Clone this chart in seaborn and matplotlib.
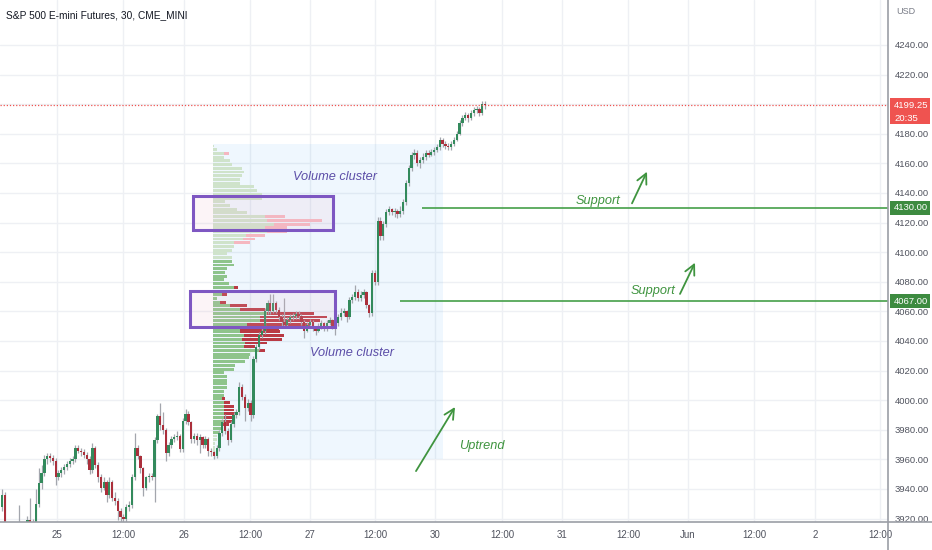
import numpy as np
import pandas as pd
import matplotlib
matplotlib.use("Agg")
import matplotlib.pyplot as plt
import matplotlib.transforms as mtransforms
from matplotlib.patches import Rectangle
from matplotlib.lines import Line2D
from matplotlib import font_manager
import seaborn as sns

# 30 min candles, ES
opens = [3928, 3936, 3913, 3910, 3912, 3911, 3915, 3914, 3912, 3916, 3919, 3915, 3918, 3930, 3944, 3951,
         3960, 3962, 3961, 3959, 3948, 3951, 3953, 3955, 3957, 3959, 3960, 3968, 3966, 3965, 3963, 3960,
         3953, 3968, 3956, 3948, 3941, 3945, 3936, 3945, 3934, 3932, 3925, 3921, 3920, 3928, 3929, 3948,
         3968, 3962, 3954, 3941, 3948, 3949, 3948, 3973, 3989, 3983, 3980, 3964, 3970, 3974, 3975, 3976,
         3967, 3986, 3991, 3985, 3974, 3976, 3973, 3975, 3970, 3974, 3966, 3965, 3962, 3968, 3978, 3985,
         3979, 3973, 3984, 3990, 3992, 4009, 4002, 3995, 3998, 3990, 4028, 4036, 4044, 4047, 4060, 4066,
         4060, 4066, 4061, 4056, 4053, 4051, 4054, 4056, 4057, 4058, 4057, 4053, 4047, 4051, 4053, 4049,
         4047, 4050, 4052, 4049, 4052, 4054, 4050, 4052, 4056, 4059, 4060, 4056, 4068, 4070, 4073, 4069,
         4071, 4073, 4064, 4059, 4086, 4080, 4121, 4111, 4119, 4127, 4129, 4127, 4128, 4126, 4128, 4134,
         4147, 4157, 4166, 4167, 4160, 4162, 4164, 4167, 4166, 4168, 4169, 4171, 4176, 4173, 4172, 4171,
         4173, 4176, 4180, 4187, 4191, 4193, 4191, 4194, 4196, 4197, 4194, 4200]
closes = [3936, 3913, 3910, 3912, 3911, 3915, 3914, 3912, 3916, 3919, 3915, 3918, 3930, 3944, 3951, 3960,
          3962, 3961, 3959, 3948, 3951, 3953, 3955, 3957, 3959, 3960, 3968, 3966, 3965, 3963, 3960, 3953,
          3968, 3956, 3948, 3941, 3945, 3936, 3945, 3934, 3932, 3925, 3921, 3920, 3928, 3929, 3948, 3968,
          3962, 3954, 3941, 3948, 3949, 3948, 3973, 3989, 3983, 3980, 3964, 3970, 3974, 3975, 3976, 3967,
          3986, 3991, 3985, 3974, 3976, 3973, 3975, 3970, 3974, 3966, 3965, 3962, 3968, 3978, 3985, 3979,
          3973, 3984, 3990, 3992, 4009, 4002, 3995, 3998, 3990, 4028, 4036, 4044, 4047, 4060, 4066, 4060,
          4066, 4061, 4056, 4053, 4051, 4054, 4056, 4057, 4058, 4057, 4053, 4047, 4051, 4053, 4049, 4047,
          4050, 4052, 4049, 4052, 4054, 4050, 4052, 4056, 4059, 4060, 4056, 4068, 4070, 4073, 4069, 4071,
          4073, 4064, 4059, 4086, 4080, 4121, 4111, 4119, 4127, 4129, 4127, 4128, 4126, 4128, 4134, 4147,
          4157, 4166, 4167, 4160, 4162, 4164, 4167, 4166, 4168, 4169, 4171, 4176, 4173, 4172, 4171, 4173,
          4176, 4180, 4187, 4191, 4193, 4191, 4194, 4196, 4197, 4194, 4200, 4199.25]
highs = [3940, 3938, 3915, 3915, 3916, 3917, 3929, 3916, 3918, 3922, 3934, 3920, 3940, 3954, 3956, 3963,
         3964, 3964, 3963, 3961, 3953, 3955, 3957, 3959, 3961, 3962, 3970, 3970, 3968, 3967, 3965, 3962,
         3971, 3969, 3958, 3950, 3948, 3946, 3948, 3946, 3938, 3934, 3927, 3923, 3930, 3932, 3950, 3978,
         3970, 3963, 3955, 3949, 3951, 3951, 3975, 3991, 3998, 3992, 3981, 3972, 3976, 3977, 3979, 3977,
         3988, 3994, 3993, 3986, 3978, 3978, 3977, 3976, 3976, 3975, 3968, 3966, 3970, 3980, 3987, 3991,
         3981, 3986, 3992, 3994, 4012, 4011, 4004, 4001, 4000, 4030, 4038, 4046, 4050, 4062, 4068, 4072,
         4072, 4067, 4063, 4058, 4069, 4056, 4058, 4059, 4060, 4060, 4058, 4054, 4053, 4055, 4054, 4050,
         4052, 4054, 4053, 4054, 4056, 4055, 4054, 4058, 4062, 4062, 4061, 4070, 4072, 4078, 4075, 4074,
         4075, 4074, 4065, 4088, 4088, 4124, 4124, 4121, 4129, 4131, 4130, 4130, 4129, 4131, 4136, 4149,
         4159, 4168, 4170, 4169, 4164, 4167, 4169, 4169, 4170, 4171, 4173, 4178, 4177, 4175, 4174, 4175,
         4178, 4182, 4189, 4193, 4195, 4194, 4196, 4198, 4199, 4198, 4202, 4202]
lows = [3925, 3910, 3905, 3906, 3907, 3908, 3910, 3908, 3909, 3913, 3912, 3912, 3914, 3928, 3940, 3949,
        3957, 3958, 3956, 3943, 3946, 3948, 3950, 3953, 3955, 3957, 3958, 3964, 3962, 3961, 3957, 3950,
        3951, 3954, 3945, 3938, 3939, 3931, 3934, 3932, 3929, 3919, 3917, 3916, 3918, 3925, 3927, 3946,
        3960, 3951, 3935, 3939, 3945, 3946, 3931, 3971, 3980, 3977, 3959, 3962, 3968, 3972, 3973, 3965,
        3965, 3984, 3983, 3971, 3971, 3970, 3964, 3968, 3968, 3962, 3962, 3960, 3961, 3966, 3976, 3977,
        3970, 3972, 3982, 3988, 3990, 4000, 3986, 3993, 3986, 3988, 4026, 4034, 4042, 4045, 4058, 4058,
        4059, 4059, 4054, 4050, 4049, 4049, 4052, 4054, 4055, 4055, 4051, 4042, 4046, 4049, 4047, 4044,
        4046, 4048, 4047, 4047, 4051, 4048, 4044, 4050, 4054, 4057, 4053, 4055, 4066, 4068, 4067, 4067,
        4069, 4062, 4056, 4057, 4078, 4078, 4108, 4108, 4117, 4125, 4125, 4124, 4123, 4124, 4126, 4132,
        4145, 4155, 4163, 4158, 4157, 4160, 4162, 4164, 4165, 4166, 4168, 4169, 4171, 4170, 4169, 4169,
        4172, 4175, 4179, 4185, 4189, 4188, 4189, 4192, 4194, 4192, 4193, 4197]

# fixed range volume profile rows, top (4173) to bottom (3962)
up_vol = [1, 4, 11, 11, 17, 19, 29, 31, 29, 27, 27, 41, 44, 49, 49, 12, 17, 24, 34, 52, 54, 61, 52, 54,
          33, 30, 21, 21, 19, 14, 19, 19, 21, 14, 12, 14, 11, 16, 21, 14, 9, 4, 7, 17, 27, 54, 47, 47,
          34, 27, 27, 31, 29, 32, 31, 46, 37, 36, 32, 22, 21, 11, 14, 14, 14, 14, 11, 11, 9, 11, 11, 11,
          11, 11, 11, 9, 9, 6, 4, 4, 2, 2, 2, 1]
down_vol = [0, 0, 5, 0, 0, 0, 0, 0, 0, 0, 0, 0, 0, 0, 0, 0, 0, 0, 0, 20, 55, 36, 22, 20,
            19, 12, 16, 0, 0, 0, 0, 0, 0, 0, 0, 0, 0, 0, 4, 5, 5, 0, 6, 17, 25, 47, 67, 60,
            63, 39, 40, 40, 40, 22, 11, 6, 0, 0, 0, 0, 0, 0, 0, 0, 0, 0, 0, 0, 3, 6, 10, 10,
            11, 11, 10, 7, 0, 0, 0, 0, 0, 0, 0, 0]
profile_high = 4173
profile_low = 3962

price_ticks = list(range(3920, 4241, 20))
time_labels = ["25", "12:00", "26", "12:00", "27", "12:00", "30", "12:00", "31", "12:00", "Jun", "12:00", "2", "12:00"]
time_px = [57, 123, 184, 250, 310, 375, 435, 502, 562, 628, 688, 754, 815, 880]

last_price = 4199.25
supports = [4130, 4067]

sns.set_theme(style="white")
names = {f.name for f in font_manager.fontManager.ttflist}
narrow = "Liberation Sans Narrow" if "Liberation Sans Narrow" in names else "Liberation Sans"
plt.rcParams["font.family"] = [narrow, "DejaVu Sans"]

fig = plt.figure(figsize=(9.32, 5.5), dpi=100)
ax = fig.add_axes([0, 28 / 550, 888 / 932, 522 / 550])

df = pd.DataFrame({"open": opens, "high": highs, "low": lows, "close": closes})
df["bar"] = np.arange(len(df))
up = df["close"] >= df["open"]

bar_px = 483 / (len(df) - 1)


def px(x):
    return (x - 2) / bar_px


ax.set_xlim(px(0), px(888))
ax.set_ylim(3917.7, 4270.4)

ax.set_xticks([px(t) for t in time_px])
ax.set_xticklabels(time_labels)
ax.set_yticks(price_ticks)
ax.set_yticklabels([f"{p:.2f}" for p in price_ticks])
ax.yaxis.tick_right()
ax.tick_params(axis="y", length=0, pad=5, labelsize=6.8, colors="#50535e")
ax.tick_params(axis="x", length=0, pad=6, labelsize=7, colors="#50535e")
ax.grid(True, color="#eef0f4", lw=1)
ax.set_axisbelow(True)
for s in ax.spines.values():
    s.set_visible(False)

# profile area
x0 = px(213)
ax.add_patch(Rectangle((x0, 3960), px(443) - x0, profile_high - 3960,
                       color="#2196f3", alpha=0.07, lw=0, zorder=1))
rows = len(up_vol)
row_h = (profile_high - profile_low) / rows
centers = profile_high - (np.arange(rows) + 0.5) * row_h
in_va = (np.arange(rows) >= 31) & (np.arange(rows) < 78)
upw = np.array(up_vol) / bar_px
dnw = np.array(down_vol) / bar_px
ax.barh(centers, upw, left=x0, height=row_h * 0.78,
        color=np.where(in_va, "#8ec48b", "#cfe3cb"), lw=0, zorder=2)
ax.barh(centers, dnw, left=x0 + upw, height=row_h * 0.78,
        color=np.where(in_va, "#b93a44", "#f5b7c0"), lw=0, zorder=2)

# candles
ax.vlines(df["bar"], df["low"], df["high"], color="#a3a6ad", lw=0.9, zorder=3)
body = (df["close"] - df["open"]).abs().clip(lower=0.8)
bottom = df[["open", "close"]].min(axis=1)
ax.bar(df["bar"][up], body[up], bottom=bottom[up], width=0.82, color="#338a5c", lw=0, zorder=4)
ax.bar(df["bar"][~up], body[~up], bottom=bottom[~up], width=0.82, color="#ab2f3b", lw=0, zorder=4)

# volume cluster boxes
box_kw = dict(facecolor=(0.92, 0.72, 0.80, 0.15), edgecolor="#7e57c2", lw=2.2, zorder=6)
ax.add_patch(Rectangle((px(193), 4115), px(333) - px(193), 23, **box_kw))
ax.add_patch(Rectangle((px(190), 4049.5), px(335) - px(190), 24.3, **box_kw))

purple = "#5c4ea8"
green = "#3f943f"
txt_kw = dict(fontsize=9.2, style="italic", va="center", ha="left", zorder=7)
ax.text(px(293), 4150.5, "Volume cluster", color=purple, **txt_kw)
ax.text(px(310), 4032, "Volume cluster", color=purple, **txt_kw)
ax.text(px(576), 4134.6, "Support", color=green, **txt_kw)
ax.text(px(631), 4073.8, "Support", color=green, **txt_kw)
ax.text(px(459), 3969, "Uptrend", color=green, **txt_kw)

arrow_kw = dict(arrowstyle="->,head_length=0.6,head_width=0.3", color=green, lw=1.3, shrinkA=0, shrinkB=0)
ax.annotate("", xy=(px(647), 4154.4), xytext=(px(632), 4133), arrowprops=arrow_kw, zorder=7)
ax.annotate("", xy=(px(695), 4092.9), xytext=(px(680), 4071.8), arrowprops=arrow_kw, zorder=7)
ax.annotate("", xy=(px(455), 3995.4), xytext=(px(416), 3952.1), arrowprops=arrow_kw, zorder=7)

# support lines and last price
ax.hlines(supports[0], px(422), px(888), color="#45a049", lw=1.2, zorder=5)
ax.hlines(supports[1], px(400), px(888), color="#45a049", lw=1.2, zorder=5)
ax.axhline(last_price, color="#ef5350", lw=0.9, ls=(0, (1, 1.5)), zorder=5)

# price scale labels
trans = mtransforms.blended_transform_factory(ax.transAxes, ax.transData)
bx, bw = 890 / 888, 40 / 888
lx = 894 / 888
ax.add_patch(Rectangle((bx, 4186.4), bw, 17.6, transform=trans, color="#ef5350", lw=0, clip_on=False, zorder=8))
ax.text(lx, last_price, f"{last_price:.2f}", transform=trans, color="white", fontsize=6.8, va="center", zorder=9)
ax.text(lx, 4190.6, "20:35", transform=trans, color="white", fontsize=6.8, va="center", zorder=9)
for lvl in supports:
    ax.add_patch(Rectangle((bx, lvl - 4.8), bw, 9.6, transform=trans, color="#3d8b40", lw=0, clip_on=False, zorder=8))
    ax.text(lx, lvl, f"{lvl:.2f}", transform=trans, color="white", fontsize=6.8, va="center", zorder=9)

# frame lines
fig.add_artist(Line2D([888 / 932, 888 / 932], [0, 1], transform=fig.transFigure, color="#9b9ea6", lw=1.2))
fig.add_artist(Line2D([0, 1], [28 / 550, 28 / 550], transform=fig.transFigure, color="#9b9ea6", lw=1.2))

fig.text(6 / 932, 1 - 15 / 550, "S&P 500 E-mini Futures, 30, CME_MINI", fontsize=7.3, color="#131722", va="center")
fig.text(896 / 932, 1 - 12 / 550, "USD", fontsize=6.5, color="#787b86", va="center")

fig.savefig("out.png", dpi=100)
